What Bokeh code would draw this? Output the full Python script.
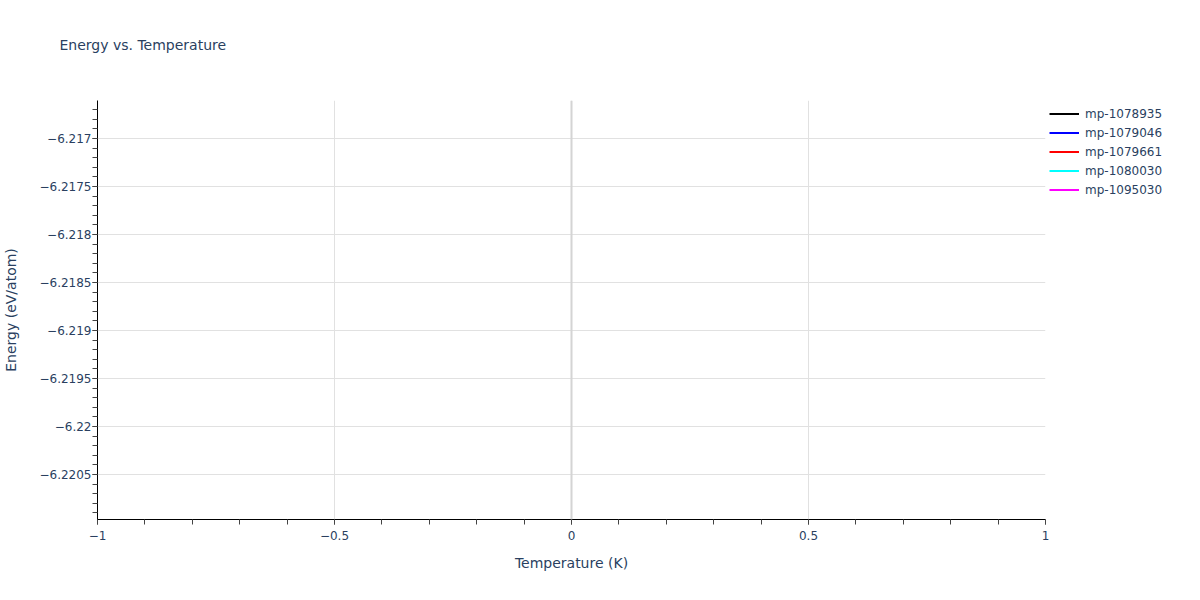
import numpy as np
from bokeh.plotting import figure
from bokeh.models import ColumnDataSource, Range1d, FixedTicker, Span, Legend, LegendItem, LinearAxis
from bokeh.embed import file_html
from bokeh.resources import INLINE

# Données : un seul point par matériau, à T = 0 K
temperature = [0.0]
mp_1078935 = [-6.216604]
mp_1079046 = [-6.218150]
mp_1079661 = [-6.219320]
mp_1080030 = [-6.218740]
mp_1095030 = [-6.220969]

series_names = ["mp-1078935", "mp-1079046", "mp-1079661", "mp-1080030", "mp-1095030"]
series_colors = ["black", "blue", "red", "cyan", "magenta"]

# Graduations et leurs libellés
x_ticks = [-1, -0.5, 0, 0.5, 1]
x_tick_labels = ["\u22121", "\u22120.5", "0", "0.5", "1"]
y_ticks = [-6.217, -6.2175, -6.218, -6.2185, -6.219, -6.2195, -6.22, -6.2205]
y_tick_labels = ["\u22126.217", "\u22126.2175", "\u22126.218", "\u22126.2185",
                 "\u22126.219", "\u22126.2195", "\u22126.22", "\u22126.2205"]

source = ColumnDataSource(data={
    "t": temperature,
    "mp-1078935": mp_1078935,
    "mp-1079046": mp_1079046,
    "mp-1079661": mp_1079661,
    "mp-1080030": mp_1080030,
    "mp-1095030": mp_1095030,
})

text_color = "#2a3f5f"
font = "DejaVu Sans"

p = figure(frame_width=948, frame_height=419, output_backend="svg", toolbar_location=None,
           x_range=Range1d(-1, 1), y_range=Range1d(-6.220969, -6.216604),
           min_border_left=97, min_border_right=130, min_border_top=100, min_border_bottom=65,
           title="Energy vs. Temperature")
p.outline_line_color = None

# Titre
p.title.text_font = font
p.title.text_font_size = "14px"
p.title.text_font_style = "normal"
p.title.text_color = text_color
p.title.align = "left"
p.title.offset = -38
p.title.standoff = 10

# Une ligne par matériau (invisible : un seul point)
items = []
for name, color in zip(series_names, series_colors):
    r = p.line("t", name, source=source, line_width=2, color=color)
    items.append(LegendItem(label=name, renderers=[r]))

# Axes principaux
xax = p.xaxis[0]
yax = p.yaxis[0]
xax.ticker = FixedTicker(ticks=x_ticks, minor_ticks=list(np.round(np.arange(-1, 1.01, 0.1), 2)))
yax.ticker = FixedTicker(ticks=y_ticks, minor_ticks=list(np.round(np.arange(-6.2210, -6.2165, 0.0001), 4)))
xax.major_label_overrides = dict(zip(x_ticks, x_tick_labels))
yax.major_label_overrides = dict(zip(y_ticks, y_tick_labels))

xax.axis_label = "Temperature (K)"
yax.axis_label = "Energy (eV/atom)"
for ax in (xax, yax):
    ax.axis_line_color = "black"
    ax.axis_line_width = 1
    ax.major_tick_out = 5
    ax.major_tick_in = 0
    ax.minor_tick_out = 5
    ax.minor_tick_in = 0
    ax.major_tick_line_color = "#444444"
    ax.minor_tick_line_color = "#444444"
    ax.major_label_text_font = font
    ax.major_label_text_font_size = "12px"
    ax.major_label_text_color = text_color
    ax.axis_label_text_font = font
    ax.axis_label_text_font_size = "14px"
    ax.axis_label_text_font_style = "normal"
    ax.axis_label_text_color = text_color
xax.major_label_standoff = 6
xax.axis_label_standoff = 12
yax.major_label_standoff = 1
yax.axis_label_standoff = 17

# Grille
p.grid.grid_line_color = "#e1e1e1"
p.grid.grid_line_width = 1
p.add_layout(Span(location=0, dimension="height", line_color="#d4d4d4", line_width=2))

# Espace entre le titre et le cadre (axe invisible)
top_spacer = LinearAxis(ticker=FixedTicker(ticks=[x_ticks[2]], minor_ticks=[]),
                        major_label_overrides={x_ticks[2]: ""}, major_label_text_font_size="1px",
                        axis_line_color=None, major_tick_out=43, major_tick_in=0,
                        minor_tick_out=0, minor_tick_in=0,
                        major_tick_line_color=None, minor_tick_line_color=None,
                        major_label_standoff=0)
p.add_layout(top_spacer, "above")

# Légende à droite du cadre
legend = Legend(items=items, location="top_left")
legend.border_line_alpha = 0
legend.background_fill_alpha = 0
legend.padding = 0
legend.margin = 4
legend.spacing = 0
legend.glyph_width = 30
legend.glyph_height = 19
legend.label_height = 19
legend.label_standoff = 6
legend.label_text_font = font
legend.label_text_font_size = "12px"
legend.label_text_color = text_color
p.add_layout(legend, "right")

open("out.html", "w").write(file_html(p, INLINE))
